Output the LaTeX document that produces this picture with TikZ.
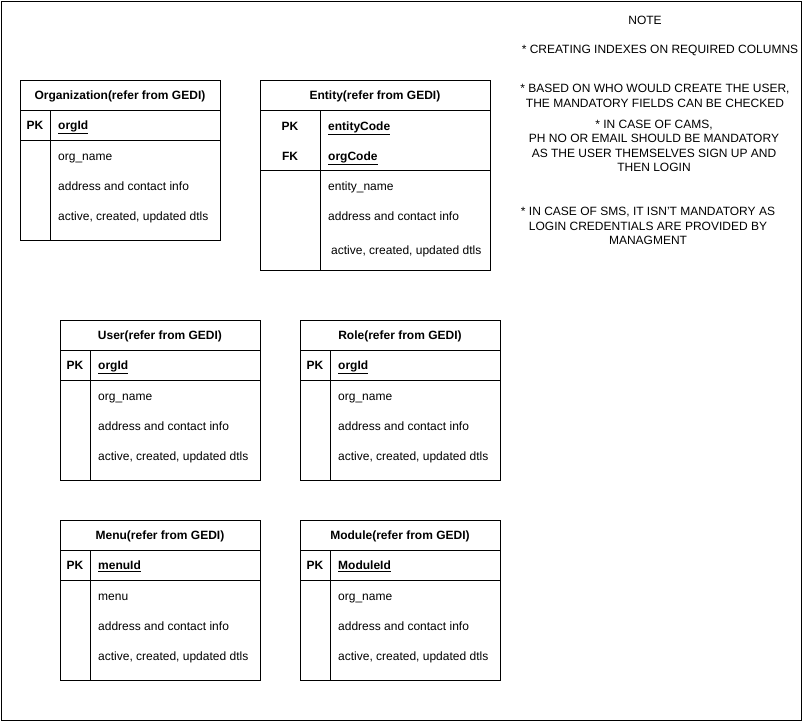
\documentclass[tikz,border=0pt]{standalone}
\usepackage{fontspec}
\setmainfont{Liberation Sans}
\begin{document}
\begin{tikzpicture}[x=1pt,y=-1pt,
  ln/.style={draw=black,line width=1pt},
  txt/.style={font=\fontsize{12}{14}\selectfont,inner sep=0pt,text height=8.6pt,text depth=2.5pt,yshift=-1.5pt},
  ttl/.style={txt,font=\fontsize{12}{14}\selectfont\bfseries},
  note/.style={font=\fontsize{12}{14.4}\selectfont,inner sep=0pt,align=center}]
\useasboundingbox (0,0) rectangle (806,721);
\node[ln,minimum width=800pt,minimum height=719pt,inner sep=0pt,anchor=north west] (frame) at (0.5,0.5) {};

% generic table: #1 shift, #2 name, #3 title, #4 key, #5 first field
\newcommand\ertable[5]{%
\begin{scope}[shift={#1}]
  \node[ln,minimum width=200pt,minimum height=160pt,inner sep=0pt,anchor=north west] (#2) at (0,0) {};
  \draw[ln] (0,30) -- (200,30) (0,60) -- (200,60) (30,30) -- (30,160);
  \node[ttl] (#2-t) at (100,15) {#3};
  \node[ttl] (#2-pk) at (15,45) {PK};
  \node[ttl,anchor=west] (#2-k) at (38,45) {\underline{#4}};
  \node[txt,anchor=west] (#2-f1) at (38,76) {#5};
  \node[txt,anchor=west] (#2-f2) at (38,106) {address and contact info};
  \node[txt,anchor=west] (#2-f3) at (38,136) {active, created, updated dtls};
\end{scope}}

\ertable{(20,80)}{org}{Organization(refer from GEDI)}{orgId}{org\_name}
\ertable{(60,320)}{user}{User(refer from GEDI)}{orgId}{org\_name}
\ertable{(300,320)}{role}{Role(refer from GEDI)}{orgId}{org\_name}
\ertable{(60,520)}{menu}{Menu(refer from GEDI)}{menuId}{menu}
\ertable{(300,520)}{module}{Module(refer from GEDI)}{ModuleId}{org\_name}

% Entity table
\begin{scope}[shift={(260,80)}]
  \node[ln,minimum width=230pt,minimum height=190pt,inner sep=0pt,anchor=north west] (ent) at (0,0) {};
  \draw[ln] (0,30) -- (230,30) (0,90) -- (230,90) (60,30) -- (60,190);
  \node[ttl] (ent-t) at (115,15) {Entity(refer from GEDI)};
  \node[ttl] (ent-pk) at (30,46) {PK};
  \node[ttl] (ent-fk) at (30,76) {FK};
  \node[ttl,anchor=west] (ent-k1) at (68,46) {\underline{entityCode}};
  \node[ttl,anchor=west] (ent-k2) at (68,76) {\underline{orgCode}};
  \node[txt,anchor=west] (ent-f1) at (68,106) {entity\_name};
  \node[txt,anchor=west] (ent-f2) at (68,136) {address and contact info};
  \node[txt,anchor=west] (ent-f3) at (71,170) {active, created, updated dtls};
\end{scope}

% Notes
\node[note] (n0) at (645,20) {NOTE};
\node[note] (n1) at (660,50) {* CREATING INDEXES ON REQUIRED COLUMNS};
\node[note] (n2) at (655,96) {* BASED ON WHO WOULD CREATE THE USER,\\THE MANDATORY FIELDS CAN BE CHECKED};
\node[note] (n3) at (654,146) {* IN CASE OF CAMS,\\PH NO OR EMAIL SHOULD BE MANDATORY\\AS THE USER THEMSELVES SIGN UP AND\\THEN LOGIN};
\node[note] (n4) at (648,226) {* IN CASE OF SMS, IT ISN'T MANDATORY AS\\LOGIN CREDENTIALS ARE PROVIDED BY\\MANAGMENT};
\end{tikzpicture}
\end{document}
